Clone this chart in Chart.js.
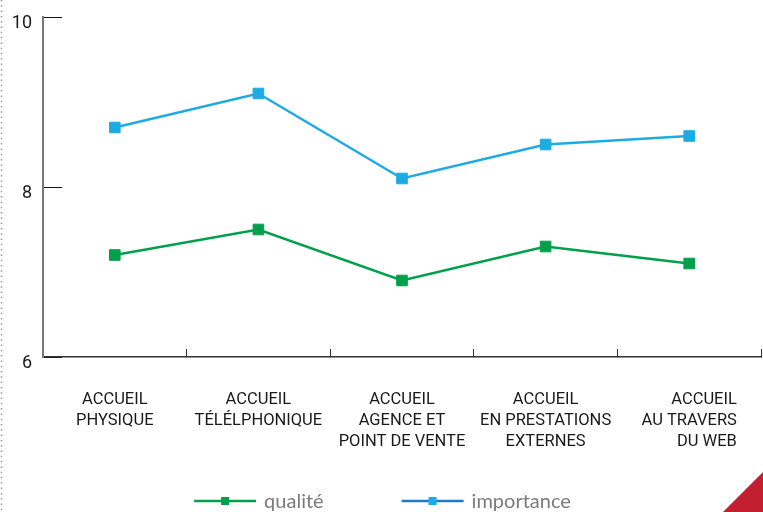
<!DOCTYPE html>
<html lang="fr">
<head>
<meta charset="utf-8">
<title>Accueil : qualité et importance</title>
<script src="https://cdn.jsdelivr.net/npm/chart.js@4.4.1/dist/chart.umd.min.js"></script>
<style>
  html, body { margin: 0; padding: 0; background: #ffffff; }
  #wrap { width: 763px; height: 512px; position: relative; }
  canvas { display: block; }
</style>
</head>
<body>
<div id="wrap"><canvas id="chart" width="763" height="512"></canvas></div>
<script>
// Categories (multi-line axis labels)
const categories = [
  ['ACCUEIL', 'PHYSIQUE'],
  ['ACCUEIL', 'TÉLÉLPHONIQUE'],
  ['ACCUEIL', 'AGENCE ET', 'POINT DE VENTE'],
  ['ACCUEIL', 'EN PRESTATIONS', 'EXTERNES'],
  ['ACCUEIL', 'AU TRAVERS', 'DU WEB']
];
// Series values
const qualite = [7.2, 7.5, 6.9, 7.3, 7.1];
const importance = [8.7, 9.1, 8.1, 8.5, 8.6];
// Y-axis tick labels
const yTicks = [6, 8, 10];
// Series names
const seriesNames = ['qualité', 'importance'];

const GREEN = '#00a04b';
const BLUE = '#1eaae3';
const BLUE_LEGEND_LINE = '#2279cc';

// Text alignment of each category label block (last one is flush right)
const labelAlign = ['center', 'center', 'center', 'center', 'right'];

// Keep the plot area exactly where the layout padding puts it
function noScalePadding(scale) {
  scale.paddingTop = 0;
  scale.paddingBottom = 0;
  scale.paddingLeft = 0;
  scale.paddingRight = 0;
}

// Page decorations: dotted left margin and red corner triangle
const decorations = {
  id: 'decorations',
  beforeDraw(chart) {
    const ctx = chart.ctx;
    ctx.save();
    ctx.fillStyle = '#ffffff';
    ctx.fillRect(0, 0, chart.width, chart.height);
    ctx.strokeStyle = '#9a9a9a';
    ctx.lineWidth = 1.5;
    ctx.setLineDash([1.5, 3.8]);
    ctx.beginPath();
    ctx.moveTo(1.5, 0);
    ctx.lineTo(1.5, chart.height);
    ctx.stroke();
    ctx.restore();
  },
  afterDraw(chart) {
    const ctx = chart.ctx;
    const w = chart.width, h = chart.height;
    ctx.save();
    ctx.fillStyle = '#c21f30';
    ctx.beginPath();
    ctx.moveTo(w - 40, h);
    ctx.lineTo(w, h - 40);
    ctx.lineTo(w, h);
    ctx.closePath();
    ctx.fill();
    ctx.restore();
  }
};

// Category labels under the x axis, placed at the scale's tick positions
const categoryLabels = {
  id: 'categoryLabels',
  afterDraw(chart) {
    const scale = chart.scales.x;
    const ctx = chart.ctx;
    const lineH = 21.3;
    const top = scale.top + 42.5;
    ctx.save();
    ctx.font = '16.5px Roboto';
    ctx.fillStyle = '#1a1a1a';
    ctx.textBaseline = 'middle';
    chart.data.labels.forEach((lines, i) => {
      const cx = scale.getPixelForTick(i);
      const widths = lines.map(t => ctx.measureText(t).width);
      const blockW = Math.max(...widths);
      lines.forEach((t, j) => {
        const y = top + j * lineH;
        if (labelAlign[i] === 'right') {
          ctx.textAlign = 'right';
          ctx.fillText(t, cx + blockW / 2, y);
        } else {
          ctx.textAlign = 'center';
          ctx.fillText(t, cx, y);
        }
      });
    });
    ctx.restore();
  }
};

// Bottom legend: line with a square marker, then the series name
const lineLegend = {
  id: 'lineLegend',
  afterDraw(chart) {
    const ctx = chart.ctx;
    const lineLen = 62, gapText = 8, gapItem = 78;
    const y = 501;
    ctx.save();
    ctx.font = '20px Lato';
    ctx.textBaseline = 'alphabetic';
    const items = chart.data.datasets.map(ds => ({
      text: ds.label,
      line: ds.legendLineColor || ds.borderColor,
      mark: ds.backgroundColor,
      w: ctx.measureText(ds.label).width
    }));
    let total = 0;
    items.forEach((it, i) => { total += lineLen + gapText + it.w + (i ? gapItem : 0); });
    let x = (chart.width - total) / 2 + 1;
    items.forEach(it => {
      ctx.strokeStyle = it.line;
      ctx.lineWidth = 2.5;
      ctx.beginPath();
      ctx.moveTo(x, y);
      ctx.lineTo(x + lineLen, y);
      ctx.stroke();
      ctx.fillStyle = it.mark;
      ctx.fillRect(x + lineLen / 2 - 4, y - 4, 8, 8);
      ctx.fillStyle = '#7b7b7b';
      ctx.fillText(it.text, x + lineLen + gapText, y + 7);
      x += lineLen + gapText + it.w + gapItem;
    });
    ctx.restore();
  }
};

new Chart(document.getElementById('chart'), {
  type: 'line',
  data: {
    labels: categories,
    datasets: [
      {
        label: seriesNames[0],
        data: qualite,
        borderColor: GREEN,
        backgroundColor: GREEN,
        pointBorderColor: GREEN,
        borderWidth: 2.5,
        pointStyle: 'rect',
        pointRadius: 7.5,
        pointBorderWidth: 1,
        tension: 0
      },
      {
        label: seriesNames[1],
        data: importance,
        borderColor: BLUE,
        backgroundColor: BLUE,
        pointBorderColor: BLUE,
        legendLineColor: BLUE_LEGEND_LINE,
        borderWidth: 2.5,
        pointStyle: 'rect',
        pointRadius: 7.5,
        pointBorderWidth: 1,
        tension: 0
      }
    ]
  },
  options: {
    responsive: false,
    devicePixelRatio: 1,
    animation: false,
    layout: { autoPadding: false, padding: { left: 0, top: 17, right: 2, bottom: 0 } },
    plugins: {
      legend: { display: false },
      tooltip: { enabled: false }
    },
    scales: {
      x: {
        type: 'category',
        offset: true,
        afterFit(scale) { scale.height = 155; noScalePadding(scale); },
        grid: {
          offset: true,
          drawOnChartArea: false,
          drawTicks: true,
          tickLength: -8,
          color: '#333333',
          lineWidth: 1
        },
        border: { display: true, color: '#333333', width: 1.5 },
        ticks: { display: false, autoSkip: false, maxRotation: 0, minRotation: 0 }
      },
      y: {
        min: yTicks[0],
        max: yTicks[yTicks.length - 1],
        afterFit(scale) { scale.width = 43; noScalePadding(scale); },
        afterBuildTicks(scale) { scale.ticks = yTicks.map(v => ({ value: v })); },
        grid: {
          drawOnChartArea: false,
          drawTicks: true,
          tickLength: -19,
          color: '#111111',
          lineWidth: 1
        },
        border: { display: true, color: '#777777', width: 2 },
        ticks: {
          padding: 30,
          labelOffset: 6,
          color: '#1a1a1a',
          font: { family: 'Roboto', size: 18 }
        }
      }
    }
  },
  plugins: [decorations, categoryLabels, lineLegend]
});
</script>
</body>
</html>
